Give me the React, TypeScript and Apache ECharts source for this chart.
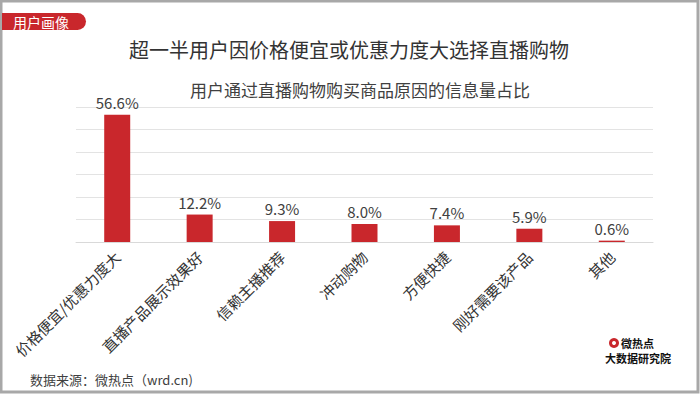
import React, { useEffect, useRef } from "react";
import * as echarts from "echarts";

const categories = ["价格便宜/优惠力度大", "直播产品展示效果好", "信赖主播推荐", "冲动购物", "方便快捷", "刚好需要该产品", "其他"];
const values = [56.6, 12.2, 9.3, 8.0, 7.4, 5.9, 0.6];
const title = "超一半用户因价格便宜或优惠力度大选择直播购物";
const subtitle = "用户通过直播购物购买商品原因的信息量占比";
const tagText = "用户画像";
const sourceText = "数据来源：微热点（wrd.cn)";

const FONT = '"Noto Sans CJK SC", "Noto Sans", sans-serif';
const RED = "#c9272c";

export default function App() {
  const ref = useRef<HTMLDivElement>(null);
  useEffect(() => {
    const chart = echarts.init(ref.current!, null, { renderer: "svg" });
    chart.setOption({
      animation: false,
      backgroundColor: "#ffffff",
      textStyle: { fontFamily: FONT },
      grid: { left: 76, right: 47, top: 107, bottom: 152 },
      xAxis: {
        type: "category",
        data: categories,
        axisLine: { lineStyle: { color: "#d9d9d9", width: 1 } },
        axisTick: { show: false },
        axisLabel: { rotate: 45, fontSize: 15, color: "#333", fontFamily: FONT, margin: 12, interval: 0 },
      },
      yAxis: {
        type: "value",
        min: 0,
        max: 60,
        interval: 10,
        axisLabel: { show: false },
        axisLine: { show: false },
        axisTick: { show: false },
        splitLine: { lineStyle: { color: "#e3e3e3", width: 1 } },
      },
      series: [
        {
          type: "bar",
          data: values,
          barWidth: 26,
          itemStyle: { color: RED },
          label: {
            show: true,
            position: "top",
            distance: 5,
            fontSize: 15,
            color: "#404040",
            fontFamily: FONT,
            formatter: (p: any) => p.value.toFixed(1) + "%",
          },
        },
      ],
      graphic: [
        { type: "rect", shape: { x: 1, y: 1, width: 697, height: 391 }, style: { fill: "none", stroke: "#a8a8a8", lineWidth: 3 } },
        { type: "rect", shape: { x: 2, y: 13, width: 84, height: 17, r: [0, 9, 9, 0] }, style: { fill: RED } },
        { type: "text", x: 13, y: 22, style: { text: tagText, fill: "#fff", fontSize: 14, fontFamily: FONT, verticalAlign: "middle" } },
        { type: "text", x: 349, y: 49, style: { text: title, fill: "#333", fontSize: 20, fontFamily: FONT, align: "center", verticalAlign: "middle" } },
        { type: "text", x: 360, y: 89, style: { text: subtitle, fill: "#404040", fontSize: 17, fontFamily: FONT, align: "center", verticalAlign: "middle" } },
        { type: "text", x: 30, y: 379, style: { text: sourceText, fill: "#404040", fontSize: 13, fontFamily: FONT, verticalAlign: "middle" } },
        { type: "circle", shape: { cx: 614, cy: 343, r: 5 }, style: { fill: RED } },
        { type: "circle", shape: { cx: 614, cy: 343, r: 2 }, style: { fill: "#fff" } },
        { type: "text", x: 621, y: 343, style: { text: "微热点", fill: "#111", fontSize: 11, fontWeight: "bold", fontFamily: FONT, verticalAlign: "middle" } },
        { type: "text", x: 605, y: 358, style: { text: "大数据研究院", fill: "#111", fontSize: 11, fontWeight: "bold", fontFamily: FONT, verticalAlign: "middle" } },
      ],
    });
    return () => chart.dispose();
  }, []);
  return <div ref={ref} style={{ position: "absolute", left: 0, top: 0, width: 700, height: 394 }} />;
}
